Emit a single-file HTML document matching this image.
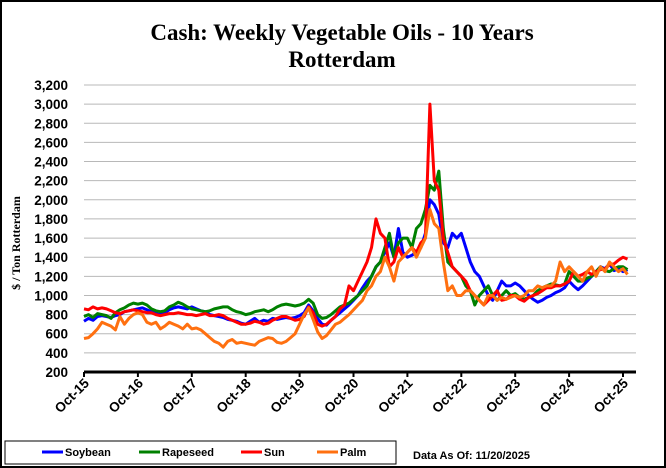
<!DOCTYPE html>
<html><head><meta charset="utf-8"><style>
html,body{margin:0;padding:0;background:#fff;}
svg{display:block;}
</style></head><body>
<svg id="chart" width="666" height="468" viewBox="0 0 666 468" xmlns="http://www.w3.org/2000/svg">
<rect x="1" y="1" width="664" height="466" fill="#fff" stroke="#000" stroke-width="2"/>
<text x="342" y="40" text-anchor="middle" font-family="Liberation Serif, serif" font-weight="bold" font-size="23">Cash: Weekly Vegetable Oils - 10 Years</text>
<text x="342" y="67" text-anchor="middle" font-family="Liberation Serif, serif" font-weight="bold" font-size="23">Rotterdam</text>
<text transform="translate(20,243) rotate(-90)" text-anchor="middle" font-family="Liberation Serif, serif" font-weight="bold" font-size="12">$ / Ton Rotterdam</text>
<g id="grid"></g><g id="series"></g><g id="axis"></g>
<rect x="5" y="441" width="391" height="23" fill="#fff" stroke="#000" stroke-width="1"/>
<g font-family="Liberation Sans, sans-serif" font-size="11" font-weight="bold">
<line x1="42" y1="452" x2="63" y2="452" stroke="#0000ff" stroke-width="3"/>
<text x="65" y="456">Soybean</text>
<line x1="139" y1="452" x2="160" y2="452" stroke="#008000" stroke-width="3"/>
<text x="162" y="456">Rapeseed</text>
<line x1="241" y1="452" x2="262" y2="452" stroke="#ff0000" stroke-width="3"/>
<text x="264" y="456">Sun</text>
<line x1="317" y1="452" x2="338" y2="452" stroke="#ff7010" stroke-width="3"/>
<text x="340" y="456">Palm</text>
<text x="413" y="459">Data As Of: 11/20/2025</text>
</g>
</svg>
<script>
const xTickLabels=["Oct-15","Oct-16","Oct-17","Oct-18","Oct-19","Oct-20","Oct-21","Oct-22","Oct-23","Oct-24","Oct-25"];
const yTicks=[200,400,600,800,1000,1200,1400,1600,1800,2000,2200,2400,2600,2800,3000,3200];
const soybean=[730,760,740,780,790,780,770,790,800,830,840,850,
860,870,850,830,810,800,820,850,870,880,870,860,
880,860,840,830,800,790,780,770,750,740,730,710,
700,730,760,720,740,730,760,750,760,770,760,770,
790,820,900,840,760,700,690,740,780,820,860,900,
950,1000,1080,1150,1200,1300,1350,1450,1550,1400,1700,1450,
1400,1420,1450,1500,1650,2000,1950,1850,1550,1500,1650,1600,
1650,1500,1350,1250,1200,1100,1000,950,1050,1150,1100,1100,
1130,1100,1050,1000,960,930,950,980,1000,1030,1050,1080,
1150,1100,1060,1100,1150,1200,1250,1300,1280,1330,1260,1280,
1250,1270];
const rapeseed=[780,800,770,810,800,790,760,820,850,870,900,920,
910,920,900,860,840,830,840,880,900,930,910,880,
860,850,840,830,840,860,870,880,880,850,830,820,
800,810,830,840,850,830,850,880,900,910,900,890,
900,920,960,920,800,760,770,800,840,880,900,920,
960,1000,1050,1100,1200,1300,1350,1500,1650,1400,1550,1600,
1600,1500,1700,1750,1900,2150,2100,2300,1700,1350,1300,1250,
1200,1100,1050,900,1000,1050,1100,1000,950,1000,1050,1000,
1020,980,960,980,1000,1050,1080,1100,1120,1110,1100,1120,
1250,1200,1150,1150,1180,1200,1250,1300,1260,1250,1280,1300,
1300,1270];
const sun=[860,850,880,860,870,860,840,820,810,830,840,850,
840,830,820,820,800,790,800,810,810,820,810,800,
800,790,800,810,790,790,800,790,760,740,720,700,
700,710,730,720,700,710,740,760,780,780,760,740,
750,780,880,820,700,680,700,740,780,860,900,1100,
1050,1150,1250,1350,1500,1800,1650,1600,1300,1350,1500,1400,
1450,1500,1450,1550,1600,3000,2200,2100,1600,1450,1300,1250,
1200,1150,1050,1000,950,900,950,1000,1050,950,960,1000,
1000,960,940,980,1000,1020,1050,1080,1080,1100,1100,1120,
1150,1250,1200,1220,1250,1220,1250,1270,1280,1320,1330,1370,
1400,1380];
const palm=[550,560,600,650,720,700,680,640,780,700,760,800,
820,800,720,700,720,650,680,720,700,680,650,700,
650,660,640,600,560,520,500,460,520,540,500,510,
500,490,480,520,540,560,550,510,500,520,560,600,
700,800,870,750,620,550,580,640,700,720,760,800,
850,900,950,1050,1100,1200,1250,1400,1300,1150,1350,1400,
1450,1500,1400,1500,1600,1900,1750,1700,1350,1050,1100,1000,
1000,1050,1050,1000,950,900,1000,1000,950,980,960,980,
1000,980,1000,1050,1050,1100,1080,1100,1100,1150,1350,1250,
1300,1250,1200,1150,1250,1300,1200,1300,1250,1350,1300,1250,
1280,1220];
const NS="http://www.w3.org/2000/svg";
const X0=84,X1=636,YTOP=85,YBOT=372,VMIN=200,VMAX=3200,YEARPX=53.9;
function xMonth(i){return X0+i*YEARPX/12;}
function yVal(v){return YBOT-(v-VMIN)/(VMAX-VMIN)*(YBOT-YTOP);}
function mk(t){return document.createElementNS(NS,t);}
const grid=document.getElementById('grid'),axis=document.getElementById('axis'),ser=document.getElementById('series');
yTicks.forEach(v=>{
 const y=yVal(v);
 if(v>VMIN){const l=mk('line');
  
  
  l.setAttribute('x1',X0);l.setAttribute('x2',X1);l.setAttribute('y1',y);l.setAttribute('y2',y);
  l.setAttribute('stroke','#b8b8b8');l.setAttribute('stroke-width','1');grid.appendChild(l);}
 const t=mk('text');
 
 
 t.setAttribute('x',68);t.setAttribute('y',y+5);t.setAttribute('text-anchor','end');
 t.setAttribute('font-family','Liberation Sans, sans-serif');t.setAttribute('font-weight','bold');t.setAttribute('font-size','13.5');
 t.textContent=v.toLocaleString('en-US');axis.appendChild(t);
});
const base=mk('line');


base.setAttribute('x1',X0);base.setAttribute('x2',X1);base.setAttribute('y1',YBOT);base.setAttribute('y2',YBOT);
base.setAttribute('stroke','#000');base.setAttribute('stroke-width','3');axis.appendChild(base);
xTickLabels.forEach((lab,i)=>{
 const x=xMonth(i*12);
 const tk=mk('line');
 
 
 tk.setAttribute('x1',x);tk.setAttribute('x2',x);tk.setAttribute('y1',YBOT);tk.setAttribute('y2',YBOT+5);
 tk.setAttribute('stroke','#000');tk.setAttribute('stroke-width','2');axis.appendChild(tk);
 const t=mk('text');
 
 
 t.setAttribute('transform','translate('+(x+6)+','+(YBOT+12)+') rotate(-45)');
 t.setAttribute('text-anchor','end');
 t.setAttribute('font-family','Liberation Sans, sans-serif');t.setAttribute('font-weight','bold');t.setAttribute('font-size','13.5');
 t.textContent=lab;axis.appendChild(t);
});
[["soybean",soybean,"#0000ff"],["rapeseed",rapeseed,"#008000"],["sun",sun,"#ff0000"],["palm",palm,"#ff7010"]].forEach(s=>{
 const p=mk('polyline');
 
 
 p.setAttribute('points',s[1].map((v,i)=>xMonth(i).toFixed(1)+','+yVal(v).toFixed(1)).join(' '));
 p.setAttribute('fill','none');p.setAttribute('stroke',s[2]);p.setAttribute('stroke-width','3');p.setAttribute('stroke-linejoin','round');
 ser.appendChild(p);
});
</script>
</body></html>
